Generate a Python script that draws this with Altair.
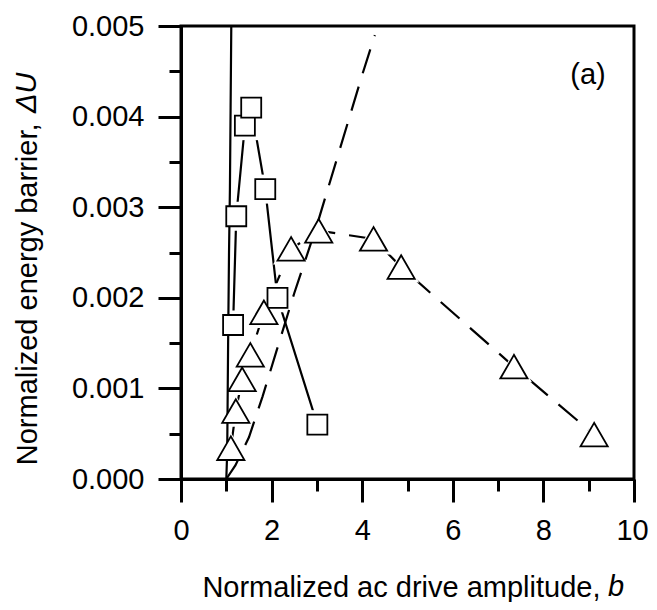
import altair as alt
import pandas as pd

# Squares (solid connecting line)
sq_x = [1.15, 1.22, 1.41, 1.55, 1.86, 2.13, 3.01]
sq_y = [0.00170, 0.00290, 0.00390, 0.00410, 0.00320, 0.00200, 0.00060]

# Triangles (dashed connecting line)
tri_x = [1.10, 1.21, 1.35, 1.53, 1.83, 2.43, 3.04, 4.25, 4.86, 7.35, 9.12]
tri_y = [0.00034, 0.00075, 0.00110, 0.00137, 0.00184, 0.00254, 0.00274,
         0.00265, 0.00234, 0.00124, 0.00049]

# Reference curve, solid (near-vertical)
ref1_x = [1.00, 1.02, 1.04, 1.06, 1.08, 1.095, 1.11]
ref1_y = [0.0000, 0.0003, 0.0015, 0.0025, 0.0032, 0.0041, 0.0050]

# Reference curve, dashed
ref2_x = [1.00, 1.20, 1.50, 1.80, 2.10, 2.50, 3.00, 3.50, 4.00, 4.28]
ref2_y = [0.0000, 0.00015, 0.00046, 0.00091, 0.00140, 0.00205, 0.00280,
          0.00363, 0.00446, 0.00490]

x_ticks = list(range(0, 11))
y_ticks = [i * 0.0005 for i in range(11)]

sq = pd.DataFrame({"x": sq_x, "y": sq_y})
tri = pd.DataFrame({"x": tri_x, "y": tri_y})
ref1 = pd.DataFrame({"x": ref1_x, "y": ref1_y})
ref2 = pd.DataFrame({"x": ref2_x, "y": ref2_y})

FONT = "Liberation Sans"
FS = 29

xscale = alt.Scale(domain=[0, 10], nice=False, zero=False)
yscale = alt.Scale(domain=[0, 0.005], nice=False, zero=False)

xaxis = alt.Axis(
    values=x_ticks,
    tickSize={"condition": {"test": "datum.value % 2 === 0", "value": 23}, "value": 12},
    labelExpr="datum.value % 2 === 0 ? datum.label : ''",
    labelOffset={"condition": {"test": "datum.value === 10", "value": -2}, "value": 0},
    title="Normalized ac drive amplitude,",
    titleAlign="right",
    titleAnchor="start",
    titleX=419,
    titleY=117,
    titleBaseline="alphabetic",
    labelPadding=14,
)
yaxis = alt.Axis(
    values=y_ticks,
    format=".3f",
    tickSize={"condition": {"test": "abs(datum.value*1000 - round(datum.value*1000)) < 1e-6", "value": 23}, "value": 12},
    labelExpr="abs(datum.value*1000 - round(datum.value*1000)) < 1e-6 ? datum.label : ''",
    title="Normalized energy barrier,",
    titleAngle=-90,
    titleAlign="right",
    titleAnchor="start",
    titleX=-145,
    titleY=97,
    titleBaseline="alphabetic",
    labelPadding=14,
)

X = alt.X("x:Q", scale=xscale, axis=xaxis)
Y = alt.Y("y:Q", scale=yscale, axis=yaxis)

sq_line = alt.Chart(sq).mark_line(color="black", strokeWidth=2.2).encode(x=X, y=Y)
tri_line = alt.Chart(tri).mark_line(color="black", strokeWidth=2.2, strokeDash=[25, 14]).encode(x=X, y=Y)

sq_halo = alt.Chart(sq).mark_point(shape="square", filled=True, color="white", opacity=1, size=841).encode(x=X, y=Y)
tri_halo = alt.Chart(tri).mark_point(shape="triangle-up", filled=True, color="white", opacity=1, size=1300).encode(x=X, y=Y)

ref1_line = alt.Chart(ref1).mark_line(color="black", strokeWidth=2.2).encode(x=X, y=Y)
ref2_line = alt.Chart(ref2).mark_line(color="black", strokeWidth=2.2, strokeDash=[25, 14]).encode(x=X, y=Y)

sq_pts = alt.Chart(sq).mark_point(shape="square", fill="white", stroke="black", strokeWidth=1.8,
                                   opacity=1, fillOpacity=1, size=400).encode(x=X, y=Y)
tri_pts = alt.Chart(tri).mark_point(shape="triangle-up", fill="white", stroke="black", strokeWidth=1.8,
                                    opacity=1, fillOpacity=1, size=740).encode(x=X, y=Y)

label_a = alt.Chart(pd.DataFrame({"t": ["(a)"]})).mark_text(
    font=FONT, fontSize=FS, align="center", baseline="middle", color="black"
).encode(x=alt.value(407), y=alt.value(49), text="t:N")

b_lbl = alt.Chart(pd.DataFrame({"t": ["b"]})).mark_text(
    font=FONT, fontSize=FS, fontStyle="italic", align="left", baseline="alphabetic", color="black"
).encode(x=alt.value(427), y=alt.value(570), text="t:N")

du_lbl = alt.Chart(pd.DataFrame({"t": ["ΔU"]})).mark_text(
    font=FONT, fontSize=FS, fontStyle="italic", align="left", baseline="alphabetic",
    angle=270, color="black"
).encode(x=alt.value(-145), y=alt.value(87), text="t:N")

chart = alt.layer(
    sq_line, tri_line, sq_halo, tri_halo, ref1_line, ref2_line, sq_pts, tri_pts,
    label_a, b_lbl, du_lbl
).properties(
    width=453, height=453,
    autosize=alt.AutoSizeParams(type="none"),
    padding={"left": 173, "top": 18, "right": 15, "bottom": 123},
).configure_view(
    stroke="black", strokeWidth=3
).configure_axis(
    grid=False,
    domainColor="black", domainWidth=3,
    tickColor="black", tickWidth=3,
    labelFont=FONT, labelFontSize=FS, labelColor="black",
    titleFont=FONT, titleFontSize=FS, titleColor="black", titleFontWeight="normal",
    labelFlush=False, labelOverlap=False,
)

chart.save("out.html", embed_options={"renderer": "svg", "actions": False})
